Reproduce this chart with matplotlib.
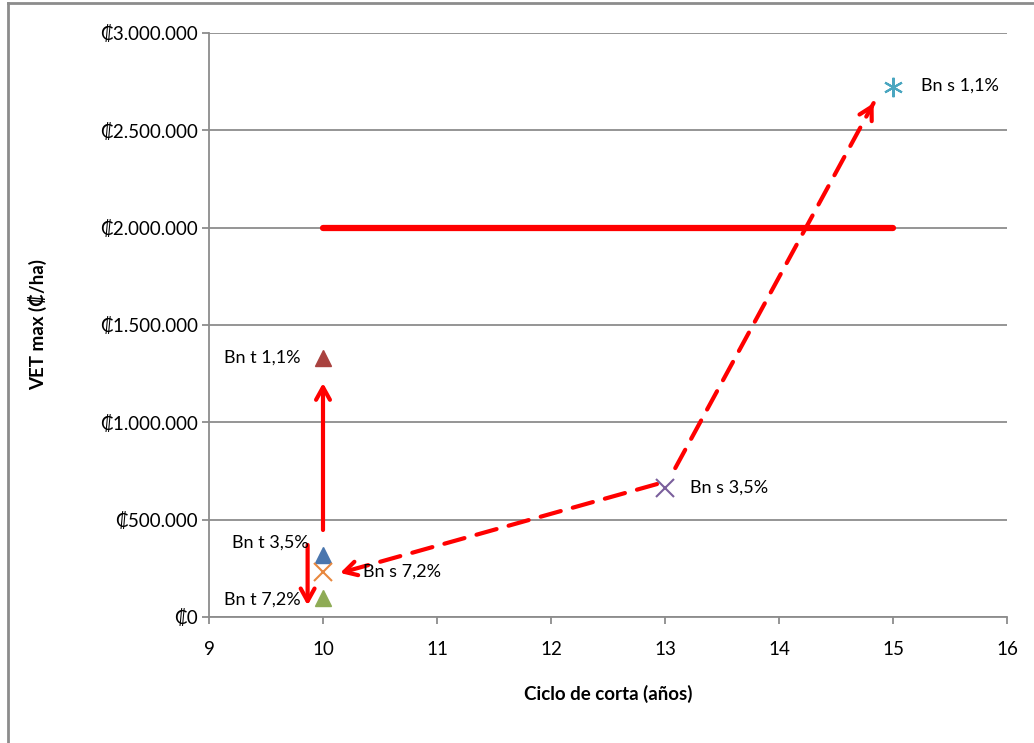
import matplotlib
matplotlib.use("Agg")
import matplotlib.pyplot as plt
from matplotlib.ticker import FuncFormatter, MultipleLocator
from matplotlib.lines import Line2D

plt.rcParams['font.family'] = ['Lato', 'DejaVu Sans']

# ---- data ----
labels = ["Bn t 1,1%", "Bn t 3,5%", "Bn t 7,2%", "Bn s 7,2%", "Bn s 3,5%", "Bn s 1,1%"]
ciclo = [10, 10, 10, 10, 13, 15]
vet = [1330000, 318000, 98000, 231000, 663000, 2722000]
markers = ["^", "^", "^", "x", "x", "*"]
colors = ["#A9423F", "#4A76AE", "#8EAB55", "#E8883F", "#7A5F9C", "#4AA6C0"]
# label offsets in points (dx, dy) and alignment
label_offsets = [(-16, 0, "right"), (-10, 9, "right"), (-16, -1, "right"),
                 (29, 0, "left"), (18, 0, "left"), (20, 1, "left")]

umbral_x = [10, 15]
umbral_y = [2000000, 2000000]

# arrows: (x_start, y_start, x_end, y_end)
solid_arrows = [(10.0, 447000, 10.0, 1202000),
                (9.865, 370000, 9.865, 60000)]
dashed_arrows = [(12.93, 683000, 10.15, 226000),
                 (13.09, 765000, 14.83, 2640000)]

fig = plt.figure(figsize=(10.34, 7.43), dpi=100)
ax = fig.add_axes([209/1034, (743-617)/743, (1007-209)/1034, (617-33)/743])

grid_c = "#8C8C8C"
ax.set_xlim(9, 16)
ax.set_ylim(0, 3000000)
ax.xaxis.set_major_locator(MultipleLocator(1))
ax.yaxis.set_major_locator(MultipleLocator(500000))
ax.yaxis.grid(True, color=grid_c, lw=1.3)
ax.set_axisbelow(True)
for s in ["top", "right"]:
    ax.spines[s].set_visible(False)
for s in ["left", "bottom"]:
    ax.spines[s].set_color(grid_c)
    ax.spines[s].set_linewidth(1.3)
ax.tick_params(axis="both", direction="out", length=5, width=1.3, color=grid_c,
               labelsize=13.5, labelcolor="black")
ax.tick_params(axis="y", pad=3)
ax.tick_params(axis="x", pad=12)

def fmt(v, pos):
    s = f"{int(round(v)):,}".replace(",", ".")
    return "\u20a1" + s
ax.yaxis.set_major_formatter(FuncFormatter(fmt))

ax.set_xlabel("Ciclo de corta (años)", fontsize=13.5, fontweight="bold", labelpad=20)
ax.set_ylabel("VET max (\u20a1/ha)", fontsize=13.5, fontweight="bold", labelpad=38)

# threshold line
ax.plot(umbral_x, umbral_y, color="#FF0000", lw=4.5, solid_capstyle="round", zorder=3)

# arrows
for (x0, y0, x1, y1) in solid_arrows:
    ax.annotate("", xy=(x1, y1), xytext=(x0, y0),
                arrowprops=dict(arrowstyle="->,head_length=0.9,head_width=0.5",
                                color="#FF0000", lw=3, shrinkA=0, shrinkB=0), zorder=4)
for (x0, y0, x1, y1) in dashed_arrows:
    ax.annotate("", xy=(x1, y1), xytext=(x0, y0),
                arrowprops=dict(arrowstyle="-", color="#FF0000", lw=3,
                                linestyle=(0, (5, 3)), shrinkA=0, shrinkB=0), zorder=4)
    fx = x1 - (x1 - x0) * 0.02
    fy = y1 - (y1 - y0) * 0.02
    ax.annotate("", xy=(x1, y1), xytext=(fx, fy),
                arrowprops=dict(arrowstyle="->,head_length=0.9,head_width=0.5",
                                color="#FF0000", lw=3, shrinkA=0, shrinkB=0), zorder=4)

# points
for x, y, m, c, lab, (dx, dy, ha) in zip(ciclo, vet, markers, colors, labels, label_offsets):
    if m == "^":
        ax.plot([x], [y], marker=m, ms=12, color=c, mec=c, ls="none", zorder=5)
    elif m == "x":
        ax.plot([x], [y], marker=m, ms=13, color=c, mew=1.5, ls="none", zorder=5)
    else:
        ax.plot([x], [y], marker=(6, 2, 0), ms=14, color=c, mew=1.5, ls="none", zorder=5)
    ax.annotate(lab, xy=(x, y), xytext=(dx, dy), textcoords="offset points",
                ha=ha, va="center", fontsize=13, zorder=6)

# outer chart-area frame
fig.add_artist(Line2D([8/1034, 8/1034], [0, 1 - 3/743], transform=fig.transFigure,
                      color="#8C8C8C", lw=2))
fig.add_artist(Line2D([8/1034, 1], [1 - 3/743, 1 - 3/743], transform=fig.transFigure,
                      color="#8C8C8C", lw=2))

fig.savefig("out.png", dpi=100)
